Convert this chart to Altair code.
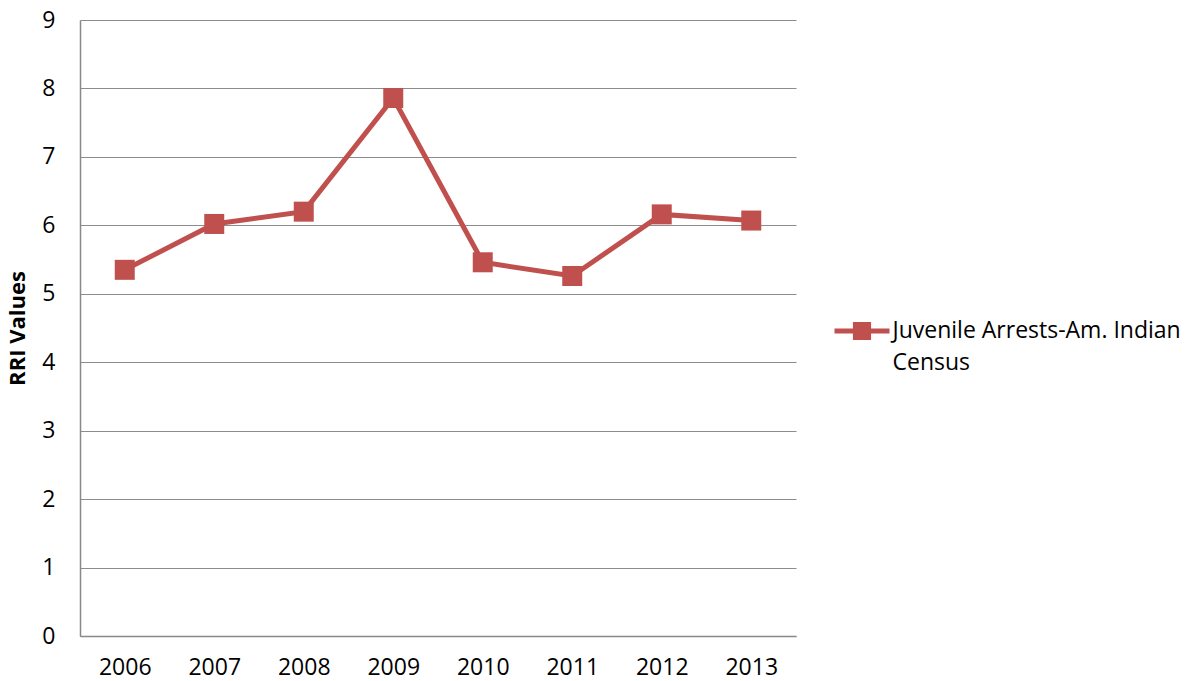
import altair as alt
import pandas as pd

years = ["2006", "2007", "2008", "2009", "2010", "2011", "2012", "2013"]
values = [5.35, 6.02, 6.20, 7.86, 5.46, 5.26, 6.16, 6.07]
series_name = "Juvenile Arrests-Am. Indian Census"
legend_lines = ["Juvenile Arrests-Am. Indian", "Census"]
y_ticks = [0, 1, 2, 3, 4, 5, 6, 7, 8, 9]

df = pd.DataFrame({"year": years, "value": values, "series": [series_name] * len(years)})

RED = "#C0504D"
FONT = "Open Sans"

x = alt.X("year:O", scale=alt.Scale(type="point", padding=0.5),
          axis=alt.Axis(title=None, labelAngle=0, ticks=False, labelPadding=20,
                        labelFontSize=23, labelColor="#000", labelFont=FONT,
                        domainColor="#888", domainWidth=1.5, grid=False))
y = alt.Y("value:Q", scale=alt.Scale(domain=[0, 9], nice=False),
          axis=alt.Axis(title="RRI Values", values=y_ticks, ticks=False, labelPadding=25,
                        labelFontSize=23, labelColor="#000", labelFont=FONT,
                        titleFontSize=22, titleFont=FONT, titleFontWeight="bold",
                        titleColor="#000", titlePadding=12,
                        domainColor="#888", domainWidth=1.5,
                        grid=True, gridColor="#8c8c8c", gridWidth=1.2))

label_expr = "[" + ", ".join("'" + s + "'" for s in legend_lines) + "]"

color = alt.Color("series:N", scale=alt.Scale(range=[RED]),
                  legend=alt.Legend(title=None, orient="none", legendX=754.5, legendY=283.5,
                                    symbolType="M-1,-0.09 L-0.33,-0.09 L-0.33,-0.33 L0.33,-0.33 L0.33,-0.09 L1,-0.09 L1,0.09 L0.33,0.09 L0.33,0.33 L-0.33,0.33 L-0.33,0.09 L-1,0.09 Z",
                                    symbolSize=3025, symbolStrokeWidth=0, symbolFillColor=RED,
                                    labelFontSize=23, labelFont=FONT, labelColor="#000",
                                    labelOffset=3, labelLimit=400, labelBaseline="middle",
                                    labelExpr=label_expr,
                                    padding=0))

line = alt.Chart(df).mark_line(strokeWidth=5, color=RED).encode(x=x, y=y)
pts = alt.Chart(df).mark_point(shape="square", size=400, filled=True, opacity=1).encode(
    x=x, y=y, color=color)

chart = (line + pts).properties(
    width=716, height=616,
    autosize=alt.AutoSizeParams(type="none"),
    padding={"left": 80, "top": 20, "right": 400, "bottom": 45},
).configure(style={"guide-label": {"lineHeight": 32}}).configure_view(stroke=None)

chart.save("out.html", embed_options={"renderer": "svg", "actions": False})
